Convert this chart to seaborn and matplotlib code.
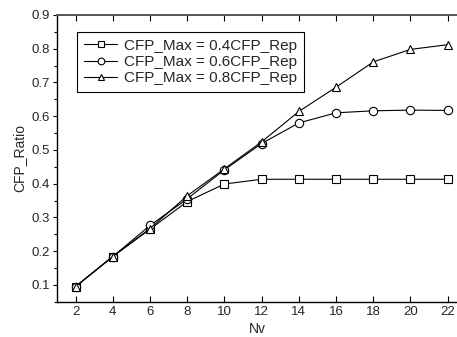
import matplotlib
matplotlib.use("Agg")
import matplotlib.pyplot as plt
import seaborn as sns
import pandas as pd
from matplotlib.ticker import MultipleLocator

nv = [2, 4, 6, 8, 10, 12, 14, 16, 18, 20, 22]
ratio_04 = [0.095, 0.184, 0.265, 0.347, 0.399, 0.413, 0.413, 0.413, 0.413, 0.413, 0.413]
ratio_06 = [0.095, 0.184, 0.276, 0.355, 0.441, 0.519, 0.580, 0.610, 0.616, 0.618, 0.617]
ratio_08 = [0.095, 0.184, 0.267, 0.364, 0.444, 0.524, 0.614, 0.686, 0.761, 0.798, 0.812]
labels = ["CFP_Max = 0.4CFP_Rep", "CFP_Max = 0.6CFP_Rep", "CFP_Max = 0.8CFP_Rep"]
markers = ["s", "o", "^"]

sns.set_style("white")
plt.rcParams["font.family"] = ["Liberation Sans", "DejaVu Sans"]

fig = plt.figure(figsize=(4.57, 3.37), dpi=100)
ax = fig.add_axes([0.1247, 0.1047, 0.8753, 0.8508])

for vals, lab, mk in zip([ratio_04, ratio_06, ratio_08], labels, markers):
    df = pd.DataFrame({"Nv": nv, "CFP_Ratio": vals})
    sns.lineplot(data=df, x="Nv", y="CFP_Ratio", ax=ax, color="black", lw=0.8,
                 marker=mk, markersize=5.5 if mk != "o" else 6, markerfacecolor="white",
                 markeredgecolor="black", markeredgewidth=0.8, label=lab)

ax.set_xlim(1.0, 22.5)
ax.set_ylim(0.05, 0.9)
ax.set_xticks(nv)
ax.set_yticks([0.1, 0.2, 0.3, 0.4, 0.5, 0.6, 0.7, 0.8, 0.9])
ax.yaxis.set_minor_locator(MultipleLocator(0.05))
ax.set_yticklabels(["0.1", "0.2", "0.3", "0.4", "0.5", "0.6", "0.7", "0.8", "0.9"])

ax.spines["right"].set_visible(False)
for s in ["left", "bottom"]:
    ax.spines[s].set_color("black")
    ax.spines[s].set_linewidth(1.0)
ax.spines["top"].set_color("#555555")
ax.spines["top"].set_linewidth(1.4)

ax.tick_params(axis="x", which="major", direction="in", length=4, width=0.8,
               top=True, bottom=True, labelsize=9.5, pad=3, color="black")
ax.tick_params(axis="y", which="major", direction="out", length=3, width=0.8,
               left=True, labelsize=9.5, pad=2, color="black")
ax.tick_params(axis="y", which="minor", direction="out", length=2, width=0.8,
               left=True, color="black")

ax.set_xlabel("Nv", fontsize=10, labelpad=3)
ax.set_ylabel("CFP_Ratio", fontsize=10, labelpad=4)

leg = ax.legend(loc="upper left", bbox_to_anchor=(0.05, 0.941), fontsize=11,
                frameon=True, fancybox=False, edgecolor="black", framealpha=1,
                handlelength=2.2, handletextpad=0.45, labelspacing=0.15,
                borderpad=0.45, borderaxespad=0, markerscale=0.8)
leg.get_frame().set_linewidth(0.8)

fig.savefig("out.png", dpi=100)
